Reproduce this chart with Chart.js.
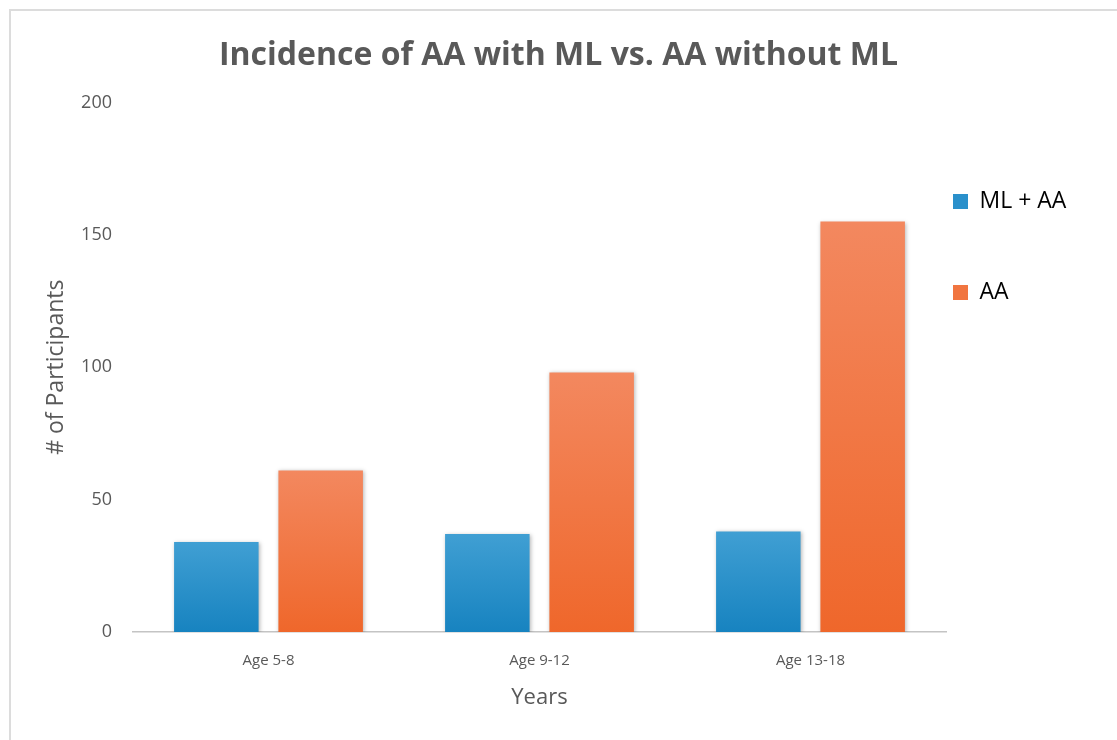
<!DOCTYPE html>
<html>
<head>
<meta charset="utf-8">
<title>Incidence of AA with ML vs. AA without ML</title>
<script src="https://cdn.jsdelivr.net/npm/chart.js@4.4.1/dist/chart.umd.min.js"></script>
<style>
    html, body { margin: 0; padding: 0; background: #fff; overflow: hidden; }
    #wrap { position: relative; width: 1117px; height: 740px; }
    #frame {
        position: absolute; left: 9px; top: 9px; width: 1300px; height: 900px;
        border-top: 2px solid #dcdcdc; border-left: 2px solid #dcdcdc;
    }
    #chart { position: absolute; left: 0; top: 0; }
</style>
</head>
<body>
<div id="wrap">
    <div id="frame"></div>
    <canvas id="chart" width="1117" height="740"></canvas>
</div>
<script>
'use strict';

// ── Data ──────────────────────────────────────────────────
const categories = ['Age 5-8', 'Age 9-12', 'Age 13-18'];
const mlPlusAA = [34, 37, 38];
const aaOnly = [61, 98, 155];
const yTicks = [0, 50, 100, 150, 200];

const textColor = '#595959';
const fontFamily = '"Open Sans", "Noto Sans", sans-serif';

// vertical gradient per bar, light on top, darker at the base
function barGradient(topColor, bottomColor, fallback) {
    return (context) => {
        const chart = context.chart;
        const yScale = chart.scales.y;
        if (!chart.chartArea || !yScale || context.raw === undefined) return fallback;
        const top = yScale.getPixelForValue(context.raw);
        const base = yScale.getPixelForValue(0);
        if (!isFinite(top) || !isFinite(base) || top === base) return fallback;
        const g = chart.ctx.createLinearGradient(0, top, 0, base);
        g.addColorStop(0, topColor);
        g.addColorStop(1, bottomColor);
        return g;
    };
}

// soft drop shadow behind the bars
const barShadow = {
    id: 'barShadow',
    beforeDatasetsDraw(chart) {
        const ctx = chart.ctx;
        ctx.save();
        ctx.shadowColor = 'rgba(0, 0, 0, 0.28)';
        ctx.shadowBlur = 4;
        ctx.shadowOffsetX = 1;
        ctx.shadowOffsetY = 1;
    },
    afterDatasetsDraw(chart) {
        chart.ctx.restore();
    }
};

// move the legend block next to the plot like the Excel layout
const legendPlacement = {
    id: 'legendPlacement',
    beforeDraw(chart) {
        const lg = chart.legend;
        if (!lg) return;
        const pad = lg.options.labels.padding;
        lg.left = chart.chartArea.right + 7 - pad;
        lg.top = 190 - pad;
    }
};

const canvas = document.getElementById('chart');

new Chart(canvas, {
    type: 'bar',
    data: {
        labels: categories,
        datasets: [
            {
                label: 'ML + AA',
                data: mlPlusAA,
                backgroundColor: barGradient('#409fd3', '#1783c0', '#2a90cb'),
                borderWidth: 0,
            },
            {
                label: 'AA',
                data: aaOnly,
                backgroundColor: barGradient('#f3885f', '#ef672b', '#f17540'),
                borderWidth: 0,
            },
        ],
    },
    options: {
        responsive: false,
        animation: false,
        categoryPercentage: 0.77,
        barPercentage: 0.81,
        layout: { padding: 0 },
        plugins: {
            title: {
                display: true,
                text: 'Incidence of AA with ML vs. AA without ML',
                color: textColor,
                font: { family: fontFamily, size: 32, weight: 'bold' },
                padding: { top: 37, bottom: 27 },
            },
            legend: {
                position: 'right',
                align: 'start',
                maxWidth: 171,
                labels: {
                    color: textColor,
                    boxWidth: 15,
                    boxHeight: 15,
                    padding: 68,
                    font: { family: fontFamily, size: 23 },
                    generateLabels: (chart) => chart.data.datasets.map((ds, i) => ({
                        text: ds.label,
                        fillStyle: i === 0 ? '#2a90cb' : '#f17540',
                        strokeStyle: i === 0 ? '#2a90cb' : '#f17540',
                        lineWidth: 0,
                        datasetIndex: i,
                    })),
                },
            },
            tooltip: { enabled: false },
        },
        scales: {
            x: {
                grid: { display: false, drawTicks: false },
                border: { display: true, color: '#c4c4c4', width: 1.5 },
                ticks: {
                    color: textColor,
                    padding: 20,
                    font: { family: fontFamily, size: 15 },
                },
                title: {
                    display: true,
                    text: 'Years',
                    color: textColor,
                    font: { family: fontFamily, size: 22 },
                    padding: { top: 0, bottom: 29 },
                },
                afterFit: (scale) => { scale.height = 108; },
            },
            y: {
                min: 0,
                max: 200,
                grid: { display: false, drawTicks: false },
                border: { display: false },
                afterBuildTicks: (scale) => { scale.ticks = yTicks.map(v => ({ value: v })); },
                ticks: {
                    color: textColor,
                    padding: 21,
                    font: { family: fontFamily, size: 18 },
                },
                title: {
                    display: true,
                    text: '# of Participants',
                    color: textColor,
                    font: { family: fontFamily, size: 23 },
                    padding: { top: 43, bottom: 0 },
                },
                afterFit: (scale) => { scale.width = 133; },
            },
        },
    },
    plugins: [barShadow, legendPlacement],
});
</script>
</body>
</html>
